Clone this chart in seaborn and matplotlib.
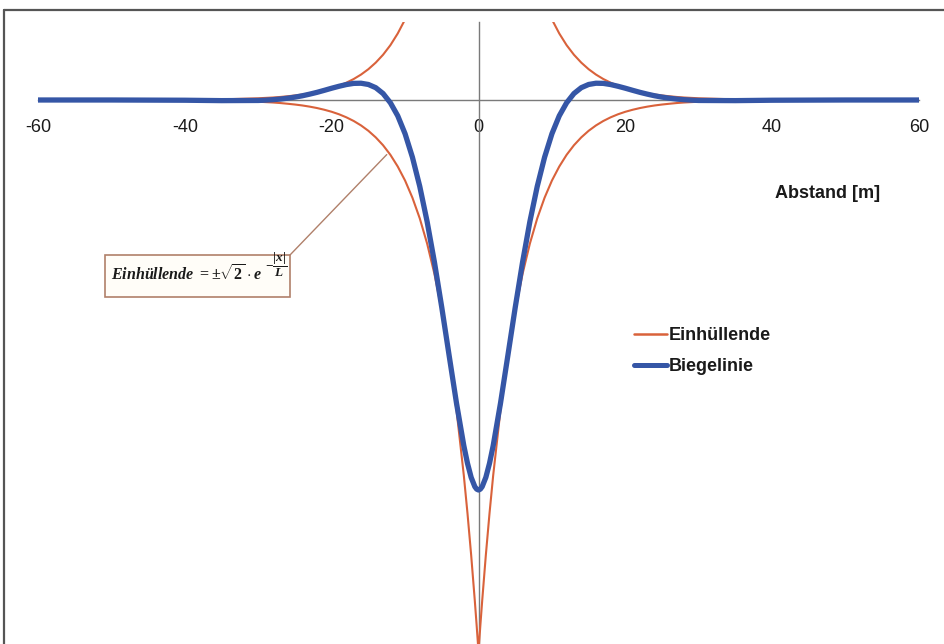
import pandas as pd
import seaborn as sns
import matplotlib
matplotlib.use("Agg")
import matplotlib.pyplot as plt
from matplotlib.lines import Line2D
from matplotlib.patches import Rectangle
from matplotlib.transforms import IdentityTransform

# Distance from the load point [m]
abstand = [-60, -50, -40, -35, -30, -29, -28, -27, -26, -25, -24, -23, -22, -21, -20,
           -19, -18, -17, -16, -15, -14, -13, -12, -11, -10, -9, -8, -7, -6, -5, -4,
           -3, -2, -1.5, -1, -0.5, -0.25, 0, 0.25, 0.5, 1, 1.5, 2, 3, 4, 5, 6, 7, 8, 9,
           10, 11, 12, 13, 14, 15, 16, 17, 18, 19, 20, 21, 22, 23, 24, 25, 26, 27, 28,
           29, 30, 35, 40, 50, 60]

# Lower branch of the envelope
einhuellende_unten = [0.000, -0.001, -0.003, -0.008, -0.022, -0.027, -0.032, -0.039, -0.048,
                      -0.058, -0.070, -0.085, -0.103, -0.125, -0.151, -0.183, -0.222, -0.269,
                      -0.326, -0.395, -0.479, -0.580, -0.703, -0.853, -1.033, -1.253, -1.518,
                      -1.840, -2.230, -2.703, -3.277, -3.971, -4.813, -5.299, -5.834, -6.423,
                      -6.739, -7.071,
                      -6.739, -6.423, -5.834, -5.299, -4.813, -3.971, -3.277, -2.703, -2.230,
                      -1.840, -1.518, -1.253, -1.033, -0.853, -0.703, -0.580, -0.479, -0.395,
                      -0.326, -0.269, -0.222, -0.183, -0.151, -0.125, -0.103, -0.085, -0.070,
                      -0.058, -0.048, -0.039, -0.032, -0.027, -0.022, -0.008, -0.003, -0.001,
                      0.000]

# Upper branch of the envelope
einhuellende_oben = [0.000, 0.001, 0.003, 0.008, 0.022, 0.027, 0.032, 0.039, 0.048,
                     0.058, 0.070, 0.085, 0.103, 0.125, 0.151, 0.183, 0.222, 0.269,
                     0.326, 0.395, 0.479, 0.580, 0.703, 0.853, 1.033, 1.253, 1.518,
                     1.840, 2.230, 2.703, 3.277, 3.971, 4.813, 5.299, 5.834, 6.423,
                     6.739, 7.071,
                     6.739, 6.423, 5.834, 5.299, 4.813, 3.971, 3.277, 2.703, 2.230,
                     1.840, 1.518, 1.253, 1.033, 0.853, 0.703, 0.580, 0.479, 0.395,
                     0.326, 0.269, 0.222, 0.183, 0.151, 0.125, 0.103, 0.085, 0.070,
                     0.058, 0.048, 0.039, 0.032, 0.027, 0.022, 0.008, 0.003, 0.001,
                     0.000]

# Deflection curve
biegelinie = [0.000, 0.000, -0.003, -0.008, -0.006, -0.002, 0.004, 0.012, 0.023, 0.037,
              0.054, 0.075, 0.098, 0.124, 0.151, 0.176, 0.198, 0.213, 0.215, 0.199, 0.158,
              0.083, -0.036, -0.203, -0.433, -0.734, -1.108, -1.558, -2.080, -2.661,
              -3.276, -3.885, -4.432, -4.658, -4.838, -4.957, -4.989, -5.000,
              -4.989, -4.957, -4.838, -4.658, -4.432, -3.885, -3.276, -2.661, -2.080,
              -1.558, -1.108, -0.734, -0.433, -0.203, -0.036, 0.083, 0.158, 0.199, 0.215,
              0.213, 0.198, 0.176, 0.151, 0.124, 0.098, 0.075, 0.054, 0.037, 0.023,
              0.012, 0.004, -0.002, -0.006, -0.008, -0.003, 0.000, 0.000]

x_ticks = [-60, -40, -20, 0, 20, 40, 60]
x_tick_labels = ["-60", "-40", "-20", "0", "20", "40", "60"]

df = pd.DataFrame({"Abstand": abstand,
                   "unten": einhuellende_unten,
                   "oben": einhuellende_oben,
                   "Biegelinie": biegelinie})

sns.set_theme(style="white")
plt.rcParams["font.family"] = ["Liberation Sans", "DejaVu Sans"]
plt.rcParams["axes.unicode_minus"] = False
plt.rcParams["mathtext.fontset"] = "custom"
plt.rcParams["mathtext.rm"] = "Liberation Serif:bold"
plt.rcParams["mathtext.it"] = "Liberation Serif:italic:bold"
plt.rcParams["mathtext.bf"] = "Liberation Serif:italic:bold"

W, H = 944, 644
fig = plt.figure(figsize=(W / 100, H / 100), dpi=100)
fig.patch.set_facecolor("white")
ax = fig.add_axes([38 / W, -2 / H, (919 - 38) / W, (646 - 22) / H])
ax.set_facecolor("none")

red = "#d9623b"
blue = "#3556a6"

sns.lineplot(data=df, x="Abstand", y="unten", color=red, linewidth=1.5,
             sort=False, estimator=None, label="Einhüllende", ax=ax, zorder=3)
sns.lineplot(data=df, x="Abstand", y="oben", color=red, linewidth=1.5,
             sort=False, estimator=None, label="_nolegend_", ax=ax, zorder=3)
sns.lineplot(data=df, x="Abstand", y="Biegelinie", color=blue, linewidth=3.8,
             sort=False, estimator=None, label="Biegelinie", ax=ax, zorder=4)
for ln in ax.get_lines():
    ln.set_solid_joinstyle("round")

ax.set_xlim(-60, 60)
ax.set_ylim(-7, 1)

# axes crossing at the origin
for s in ["top", "right"]:
    ax.spines[s].set_visible(False)
ax.spines["left"].set_position(("data", 0))
ax.spines["bottom"].set_position(("data", 0))
for s in ["left", "bottom"]:
    ax.spines[s].set_color("#7a7a7a")
    ax.spines[s].set_linewidth(1.0)
    ax.spines[s].set_zorder(2)

ax.set_xticks(x_ticks)
ax.set_xticklabels(x_tick_labels)
ax.set_yticks(range(-7, 2))
ax.set_yticklabels([])
ax.tick_params(axis="x", direction="out", length=4, width=1, color="#7a7a7a",
               labelsize=13, pad=10, labelcolor="#1a1a1a")
ax.tick_params(axis="y", direction="out", length=4, width=1, color="#7a7a7a")
ax.set_xlabel("")
ax.set_ylabel("")

# Axis caption
fig.text(828 / W, 1 - 193 / H, "Abstand [m]", ha="center", va="center",
         fontsize=13, fontweight="bold", color="#1a1a1a")

# Legend
handles = [Line2D([], [], color=red, linewidth=1.8),
           Line2D([], [], color=blue, linewidth=3.6)]
ax.legend(handles, ["Einhüllende", "Biegelinie"], loc="center left",
          bbox_to_anchor=(634, H - 351), bbox_transform=IdentityTransform(),
          frameon=False, borderaxespad=0, borderpad=0, handlelength=1.8,
          handletextpad=0.15, labelspacing=0.78,
          prop={"weight": "bold", "size": 13})
for t in ax.get_legend().get_texts():
    t.set_color("#1a1a1a")

# Formula box with leader line to the envelope
box = Rectangle((105, H - 297), 185, 42, transform=IdentityTransform(),
                facecolor="#fffdf8", edgecolor="#b0806a", linewidth=1.2, zorder=5)
fig.add_artist(box)
formula_style = dict(fontstyle="italic", fontweight="bold",
                     family=["Liberation Serif", "DejaVu Serif"],
                     color="#1a1a1a", zorder=6)
fig.text(111 / W, (H - 281) / H, r"Einhüllende $= \pm\sqrt{2}\cdot e$",
         ha="left", va="baseline", fontsize=11.5, **formula_style)
fig.text(265 / W, (H - 265) / H, r"$-\dfrac{|x|}{L}$",
         ha="left", va="center", fontsize=9.5, **formula_style)
ax.annotate("", xy=(-12.5, -0.70), xycoords="data",
            xytext=(290, H - 255), textcoords="figure pixels",
            arrowprops=dict(arrowstyle="-", color="#b0806a", lw=1.0,
                            shrinkA=0, shrinkB=0), zorder=5)

# Chart frame (left and top edges)
fig.add_artist(Line2D([3.5, 3.5], [-5, H - 10], transform=IdentityTransform(),
                      color="#555555", linewidth=1.6))
fig.add_artist(Line2D([3.5, W + 5], [H - 10, H - 10], transform=IdentityTransform(),
                      color="#555555", linewidth=1.6))

fig.savefig("out.png", dpi=100, facecolor="white")
